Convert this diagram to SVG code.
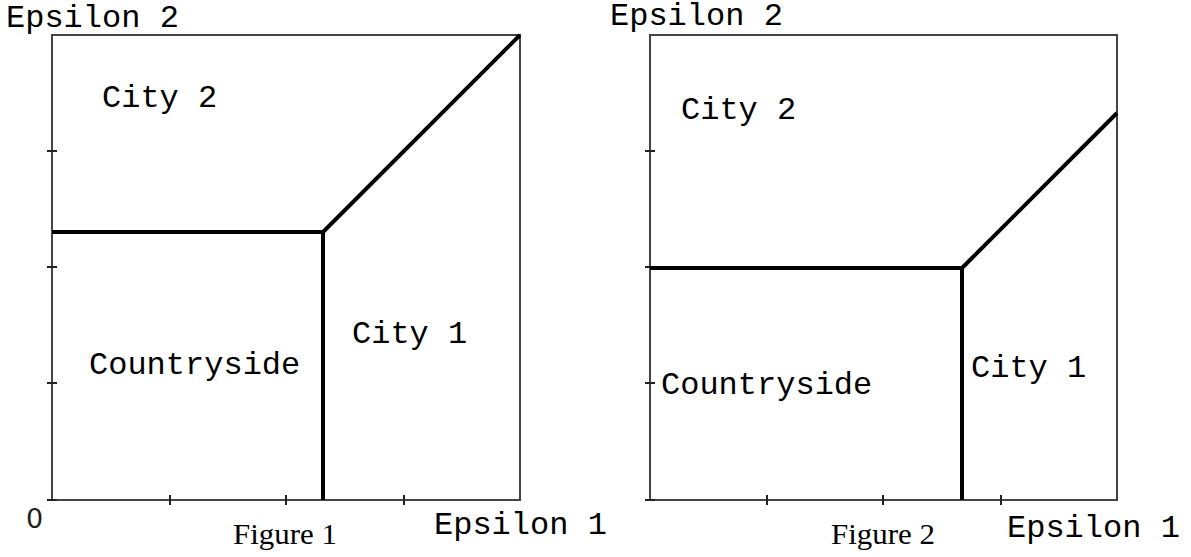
<svg xmlns="http://www.w3.org/2000/svg" width="1191" height="557" viewBox="0 0 1191 557">
<style>
.axis{stroke:#444;stroke-width:2;fill:none}
.tick{stroke:#222;stroke-width:2}
.bound{stroke:#000;stroke-width:4;fill:none;stroke-linejoin:round}
.mono{font-family:"Liberation Mono","Courier New",monospace;font-size:32px;fill:#000}
.cap{font-family:"Liberation Serif","Times New Roman",serif;font-size:30px;fill:#000}
.zero{font-family:"DejaVu Sans","Liberation Sans",sans-serif;font-size:27px;fill:#222}
</style>
<rect width="1191" height="557" fill="#fff"/>
<g id="figure1">
  <g id="frame1">
    <path class="axis" d="M52,35 H520 V500 H52 Z"/>
    <path class="tick" d="M170,495 V505 M286,495 V505 M404,495 V505 M47,151 H57 M47,267 H57 M47,383 H57 M47,500 H57"/>
  </g>
  <g id="boundaries1">
    <path class="bound" d="M52,232 H323 V500 M323,232 L520,35"/>
  </g>
  <g id="labels1">
    <text class="mono" x="6" y="27">Epsilon 2</text>
    <text class="mono" x="102" y="107">City 2</text>
    <text class="mono" x="89" y="374">Countryside</text>
    <text class="mono" x="352" y="343">City 1</text>
    <text class="zero" x="26" y="528">0</text>
    <text class="cap" x="233" y="544" textLength="104" lengthAdjust="spacingAndGlyphs">Figure 1</text>
    <text class="mono" x="434" y="534">Epsilon 1</text>
  </g>
</g>
<g id="figure2">
  <g id="frame2">
    <path class="axis" d="M650,35 H1117 V500 H650 Z"/>
    <path class="tick" d="M767,495 V505 M883,495 V505 M1001,495 V505 M645,151 H655 M645,267 H655 M645,383 H655 M645,500 H655"/>
  </g>
  <g id="boundaries2">
    <path class="bound" d="M650,268 H962 V500 M962,268 L1117,113"/>
  </g>
  <g id="labels2">
    <text class="mono" x="610" y="25">Epsilon 2</text>
    <text class="mono" x="681" y="119">City 2</text>
    <text class="mono" x="661" y="394">Countryside</text>
    <text class="mono" x="971" y="377">City 1</text>
    <text class="cap" x="831" y="544" textLength="104" lengthAdjust="spacingAndGlyphs">Figure 2</text>
    <text class="mono" x="1007" y="537">Epsilon 1</text>
  </g>
</g>
</svg>
